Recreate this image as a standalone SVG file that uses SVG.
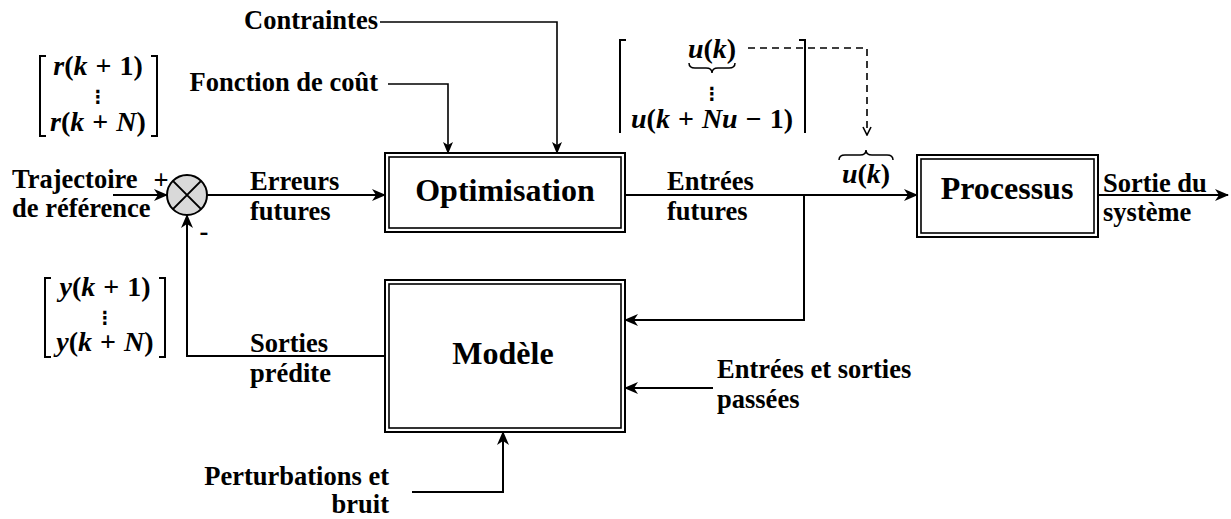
<svg xmlns="http://www.w3.org/2000/svg" width="1231" height="519" viewBox="0 0 1231 519">
  <style>
    .lbl { font-weight: bold; font-size: 26.5px; fill: #000; }
    .big { font-weight: bold; font-size: 32px; fill: #000; }
    .math { font-weight: bold; font-size: 28px; word-spacing: 1px; fill: #000; }
    .dots { font-weight: bold; font-size: 18px; fill: #000; }
    .v { font-style: italic; }
    .wire { fill: none; stroke: #000; stroke-width: 2; }
    .thin { fill: none; stroke: #000; stroke-width: 1.6; }
    .dash { fill: none; stroke: #000; stroke-width: 1.6; stroke-dasharray: 7 5; }
    .box { fill: #fff; stroke: #000; stroke-width: 2; }
    .inner { fill: none; stroke: #000; stroke-width: 1.6; }
    .brk { fill: none; stroke: #000; stroke-width: 2; }
  </style>
  <defs>
    <marker id="arr" viewBox="0 0 14 12" refX="13" refY="6" markerWidth="14" markerHeight="12" markerUnits="userSpaceOnUse" orient="auto">
      <path d="M0,0 L14,6 L0,12 L4,6 z" fill="#000"/>
    </marker>
    <marker id="arrs" viewBox="0 0 12 10" refX="11" refY="5" markerWidth="12" markerHeight="10" markerUnits="userSpaceOnUse" orient="auto">
      <path d="M0,0 L12,5 L0,10 L3,5 z" fill="#000"/>
    </marker>
    <marker id="open" viewBox="0 0 10 10" refX="9" refY="5" markerWidth="10" markerHeight="10" markerUnits="userSpaceOnUse" orient="auto">
      <path d="M1,1 L9,5 L1,9" fill="none" stroke="#000" stroke-width="1.6"/>
    </marker>
  </defs>

  <!-- connectors -->
  <g id="connectors">
    <path class="wire" d="M113,195 H167" marker-end="url(#arr)"/>
    <path class="wire" d="M207,195 H385" marker-end="url(#arr)"/>
    <path class="wire" d="M625,195 H917" marker-end="url(#arr)"/>
    <path class="wire" d="M804,195 V320 H625" marker-end="url(#arr)"/>
    <path class="wire" d="M385,356 H187 V215" marker-end="url(#arr)"/>
    <path class="wire" d="M713,388 H625" marker-end="url(#arr)"/>
    <path class="wire" d="M412,492 H503 V432" marker-end="url(#arr)"/>
    <path class="wire" d="M1098,195 H1228" marker-end="url(#arr)"/>
    <path class="thin" d="M380,22 H557 V153" marker-end="url(#arrs)"/>
    <path class="thin" d="M388,84 H448 V153" marker-end="url(#arrs)"/>
    <path class="dash" d="M748,48 H867 V135" marker-end="url(#open)"/>
  </g>

  <g font-family="Liberation Serif, Times New Roman, serif">
  <!-- summing junction -->
  <g id="sum">
    <circle cx="187" cy="195" r="20" fill="#d9d9d9" stroke="#000" stroke-width="2"/>
    <path d="M172.9,180.9 L201.1,209.1 M201.1,180.9 L172.9,209.1" stroke="#000" stroke-width="2"/>
    <text class="lbl" x="161" y="189" text-anchor="middle" font-weight="normal">+</text>
    <text class="lbl" x="204" y="240" text-anchor="middle">-</text>
  </g>

  <!-- optimisation block -->
  <g id="optimisation">
    <rect class="box" x="385" y="153" width="240" height="79"/>
    <rect class="inner" x="389" y="157" width="232" height="71"/>
    <text class="big" x="505" y="201" text-anchor="middle">Optimisation</text>
  </g>

  <!-- model block -->
  <g id="modele">
    <rect class="box" x="385" y="280" width="240" height="152"/>
    <rect class="inner" x="389" y="284" width="232" height="144"/>
    <text class="big" x="503" y="364" text-anchor="middle">Modèle</text>
  </g>

  <!-- process block -->
  <g id="processus">
    <rect class="box" x="917" y="155" width="181" height="82"/>
    <rect class="inner" x="921" y="159" width="173" height="74"/>
    <text class="big" x="1007" y="199" text-anchor="middle" font-size="27">Processus</text>
  </g>

  <!-- signal labels -->
  <g id="labels">
    <text class="lbl" x="378" y="29" text-anchor="end">Contraintes</text>
    <text class="lbl" x="378" y="91" text-anchor="end">Fonction de coût</text>
    <text class="lbl" x="12" y="188">Trajectoire</text>
    <text class="lbl" x="12" y="217">de référence</text>
    <text class="lbl" x="250" y="190">Erreurs</text>
    <text class="lbl" x="250" y="220">futures</text>
    <text class="lbl" x="667" y="190">Entrées</text>
    <text class="lbl" x="667" y="220">futures</text>
    <text class="lbl" x="1103" y="192">Sortie du</text>
    <text class="lbl" x="1103" y="221">système</text>
    <text class="lbl" x="250" y="352">Sorties</text>
    <text class="lbl" x="250" y="382">prédite</text>
    <text class="lbl" x="717" y="378">Entrées et sorties</text>
    <text class="lbl" x="717" y="408">passées</text>
    <text class="lbl" x="389" y="485" text-anchor="end">Perturbations et</text>
    <text class="lbl" x="389" y="513" text-anchor="end">bruit</text>
  </g>

  <!-- reference vector -->
  <g id="ref-vector">
    <path class="brk" d="M46,56 H40 V136 H46 M151,56 H157 V136 H151"/>
    <text class="math" x="98" y="75" text-anchor="middle"><tspan class="v">r</tspan>(<tspan class="v">k</tspan> + 1)</text>
    <text class="dots" x="98" y="103" text-anchor="middle" font-family="DejaVu Sans, sans-serif">⋮</text>
    <text class="math" x="98" y="131" text-anchor="middle"><tspan class="v">r</tspan>(<tspan class="v">k</tspan> + <tspan class="v">N</tspan>)</text>
  </g>

  <!-- predicted output vector -->
  <g id="out-vector">
    <path class="brk" d="M51,278 H45 V357 H51 M159,278 H165 V357 H159"/>
    <text class="math" x="105" y="296" text-anchor="middle"><tspan class="v">y</tspan>(<tspan class="v">k</tspan> + 1)</text>
    <text class="dots" x="105" y="324" text-anchor="middle" font-family="DejaVu Sans, sans-serif">⋮</text>
    <text class="math" x="105" y="351" text-anchor="middle"><tspan class="v">y</tspan>(<tspan class="v">k</tspan> + <tspan class="v">N</tspan>)</text>
  </g>

  <!-- future input vector -->
  <g id="in-vector">
    <path class="brk" d="M626,40 H620 V133 M799,40 H805 V133"/>
    <text class="math" x="712" y="58" text-anchor="middle"><tspan class="v">u</tspan>(<tspan class="v">k</tspan>)</text>
    <path d="M689,63 q0,5 6,5 h11 q6,0 6,5 q0,-5 6,-5 h11 q6,0 6,-5" fill="none" stroke="#000" stroke-width="1.5"/>
    <text class="dots" x="712" y="100" text-anchor="middle" font-family="DejaVu Sans, sans-serif">⋮</text>
    <text class="math" x="712" y="128" text-anchor="middle"><tspan class="v">u</tspan>(<tspan class="v">k</tspan> + <tspan class="v">Nu</tspan> − 1)</text>
  </g>

  <!-- applied input -->
  <g id="u-applied">
    <path d="M839,160 q0,-5 6,-5 h15 q6,0 6,-5 q0,5 6,5 h15 q6,0 6,5" fill="none" stroke="#000" stroke-width="1.5"/>
    <text class="math" x="866" y="183" text-anchor="middle"><tspan class="v">u</tspan>(<tspan class="v">k</tspan>)</text>
  </g>
  </g>
</svg>
